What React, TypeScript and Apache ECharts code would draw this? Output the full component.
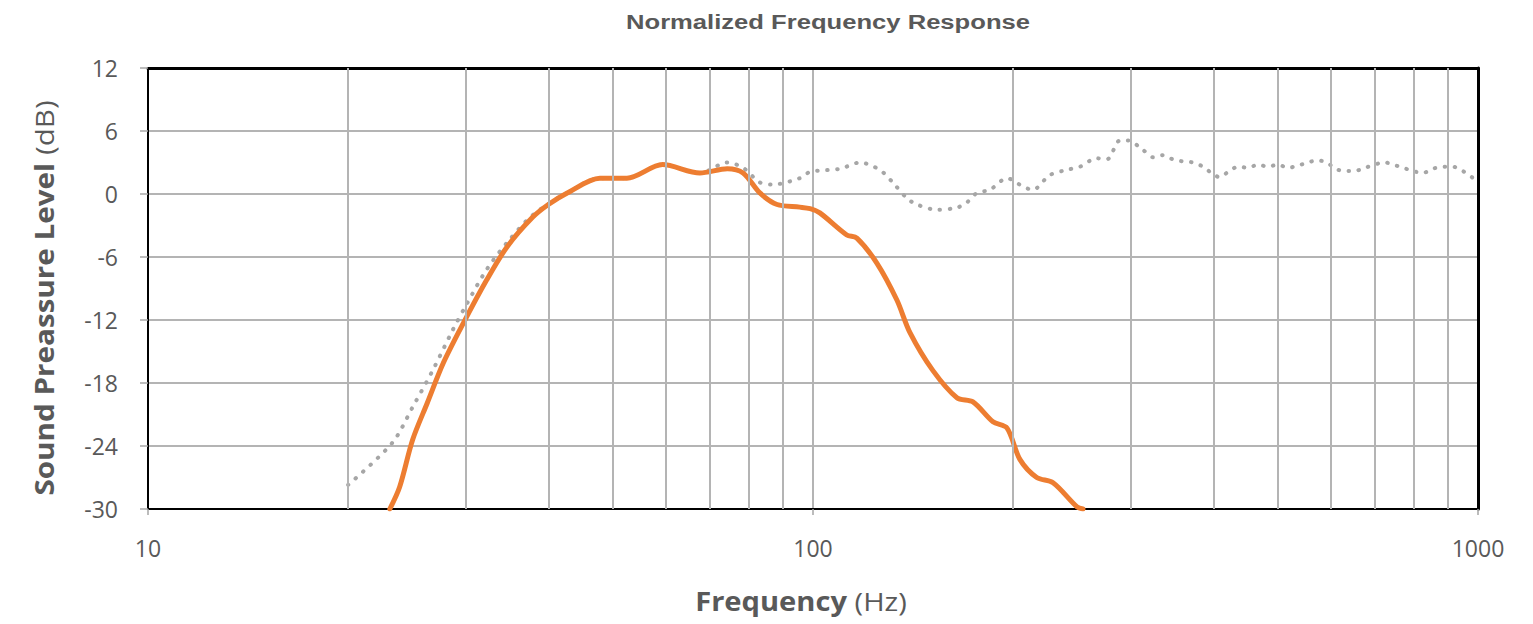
import React, { useEffect, useRef } from "react";
import * as echarts from "echarts";

const chartTitle = "Normalized Frequency Response";
const yTicks = { min: -30, max: 12, interval: 6 };
const xRange = { min: 10, max: 1000 };
const minorGridFreqs = [20, 30, 40, 50, 60, 70, 80, 90, 200, 300, 400, 500, 600, 700, 800, 900];

const orangeFreq = [23.1, 23.9, 25.0, 26.3, 27.8, 29.8, 32.3, 34.7, 37.9, 40.0, 42.7, 47.8, 52.5, 59.4, 67.6, 74.3, 78.5, 83.2, 88.3, 95.5, 99, 102.4, 112.4, 116.4, 124.8, 133.7, 139.9, 151.4, 164.6, 174, 186.5, 195.8, 204.8, 217, 229.6, 249.5, 254.7];
const orangeDb = [-30, -27.9, -23.4, -19.9, -16.1, -12.3, -8.2, -5.0, -2.2, -1.0, 0.1, 1.5, 1.5, 2.8, 2.0, 2.4, 2.0, 0.1, -1.0, -1.25, -1.4, -1.8, -3.9, -4.2, -6.6, -10.1, -13.2, -16.8, -19.4, -19.8, -21.7, -22.3, -25.3, -27.0, -27.5, -29.8, -30];

const grayFreq = [20, 23.3, 25, 26.8, 28.7, 30.2, 32.3, 34.7, 37.9, 42.7, 47.8, 52.5, 59.4, 67.6, 74.3, 78.5, 83.2, 87, 95.5, 99, 109.8, 117.7, 126, 131.8, 138.4, 143.3, 153.5, 164.6, 170.4, 176.4, 184.5, 195.8, 207, 214, 227, 241, 252, 267, 276.7, 289.5, 297.7, 313.5, 324.6, 336, 347.7, 360, 372.8, 386, 395.5, 409, 420.9, 435.9, 451, 467, 483, 500, 518, 536, 555, 573, 593, 610, 631, 653, 676, 725, 745, 771, 798, 826, 855, 885, 916, 948, 979, 1000];
const grayDb = [-27.7, -23.7, -20.3, -16.8, -13.0, -10.4, -7.2, -4.6, -2.0, 0.1, 1.5, 1.5, 2.8, 2.0, 3.0, 2.5, 1.1, 0.9, 1.5, 2.1, 2.4, 3.0, 2.3, 1.1, -0.4, -1.0, -1.5, -1.3, -0.8, 0.1, 0.4, 1.5, 0.7, 0.4, 1.8, 2.3, 2.6, 3.4, 3.3, 5.1, 5.1, 4.2, 3.5, 3.7, 3.3, 3.1, 3.0, 2.6, 2.1, 1.6, 2.1, 2.6, 2.5, 2.8, 2.6, 2.8, 2.5, 2.7, 3.0, 3.2, 3.0, 2.4, 2.2, 2.2, 2.5, 3.0, 2.8, 2.5, 2.2, 2.0, 2.4, 2.6, 2.6, 2.2, 1.6, 1.1];

const GRID_COLOR = "#b4b4b4";
const TEXT_COLOR = "#595959";
const FONT = "'Open Sans', 'Noto Sans', sans-serif";

const nameRich = {
  b: { fontFamily: FONT, fontWeight: "bold", fontSize: 26, fill: TEXT_COLOR, color: TEXT_COLOR },
  n: { fontFamily: FONT, fontWeight: "normal", fontSize: 26, fill: TEXT_COLOR, color: TEXT_COLOR },
};

export default function App() {
  const ref = useRef<HTMLDivElement>(null);
  useEffect(() => {
    if (!ref.current) return;
    const chart = echarts.init(ref.current, null, { renderer: "svg" });
    const orange = orangeFreq.map((f, i) => [f, orangeDb[i]]);
    const gray = grayFreq.map((f, i) => [f, grayDb[i]]);
    const frameAxis = { show: true, onZero: false, lineStyle: { color: "#000", width: 3 } };
    chart.setOption({
      animation: false,
      backgroundColor: "#ffffff",
      grid: { left: 148, right: 55, top: 68, bottom: 115 },
      graphic: [
        {
          type: "text",
          x: 828,
          y: 22,
          scaleX: 1.28,
          style: { text: chartTitle, fill: TEXT_COLOR, font: "bold 20px 'Liberation Sans', Arial, sans-serif", align: "center", verticalAlign: "middle" },
        },
        {
          type: "text",
          x: 801,
          y: 601,
          scaleX: 1.12,
          style: { text: "{b|Frequency}{n| (Hz)}", align: "center", verticalAlign: "middle", rich: nameRich },
        },
        {
          type: "text",
          x: 44,
          y: 298,
          rotation: Math.PI / 2,
          scaleX: 1.14,
          style: { text: "{b|Sound Preassure Level}{n| (dB)}", align: "center", verticalAlign: "middle", rich: nameRich },
        },
      ],
      xAxis: [
        {
          type: "log",
          logBase: 10,
          min: xRange.min,
          max: xRange.max,
          axisLine: { show: true, onZero: false, lineStyle: { color: "#000", width: 2 } },
          axisTick: { show: true, length: 6, lineStyle: { color: "#a6a6a6", width: 1.5 } },
          axisLabel: { color: TEXT_COLOR, fontSize: 23, fontFamily: FONT, margin: 27, formatter: (v: number) => String(Math.round(v)) },
          splitLine: { show: true, lineStyle: { color: GRID_COLOR, width: 2 } },
        },
        {
          type: "log",
          logBase: 10,
          min: xRange.min,
          max: xRange.max,
          position: "top",
          axisLine: frameAxis,
          axisTick: { show: false },
          axisLabel: { show: false },
          splitLine: { show: false },
        },
      ],
      yAxis: [
        {
          type: "value",
          min: yTicks.min,
          max: yTicks.max,
          interval: yTicks.interval,
          axisLine: { show: true, onZero: false, lineStyle: { color: "#000", width: 2 } },
          axisTick: { show: true, length: 8, lineStyle: { color: "#a6a6a6", width: 1.5 } },
          axisLabel: { color: TEXT_COLOR, fontSize: 23, fontFamily: FONT, margin: 30 },
          splitLine: { show: true, lineStyle: { color: GRID_COLOR, width: 2 } },
        },
        {
          type: "value",
          min: yTicks.min,
          max: yTicks.max,
          interval: yTicks.interval,
          position: "right",
          axisLine: frameAxis,
          axisTick: { show: false },
          axisLabel: { show: false },
          splitLine: { show: false },
        },
      ],
      series: [
        {
          type: "line",
          data: [],
          silent: true,
          markLine: {
            silent: true,
            symbol: "none",
            label: { show: false },
            lineStyle: { color: GRID_COLOR, width: 2, type: "solid" },
            data: minorGridFreqs.map((f) => ({ xAxis: f })),
          },
        },
        {
          type: "line",
          data: gray,
          showSymbol: false,
          smooth: 0.3,
          clip: true,
          lineStyle: { color: "#a6a6a6", width: 4, type: [0.5, 9.5], cap: "round" },
          z: 3,
        },
        {
          type: "line",
          data: orange,
          showSymbol: false,
          smooth: 0.3,
          clip: true,
          lineStyle: { color: "#ED7D31", width: 5, cap: "round", join: "round" },
          z: 4,
        },
      ],
    });
    return () => chart.dispose();
  }, []);
  return <div ref={ref} style={{ position: "fixed", left: 0, top: 0, width: 1533, height: 624 }} />;
}
